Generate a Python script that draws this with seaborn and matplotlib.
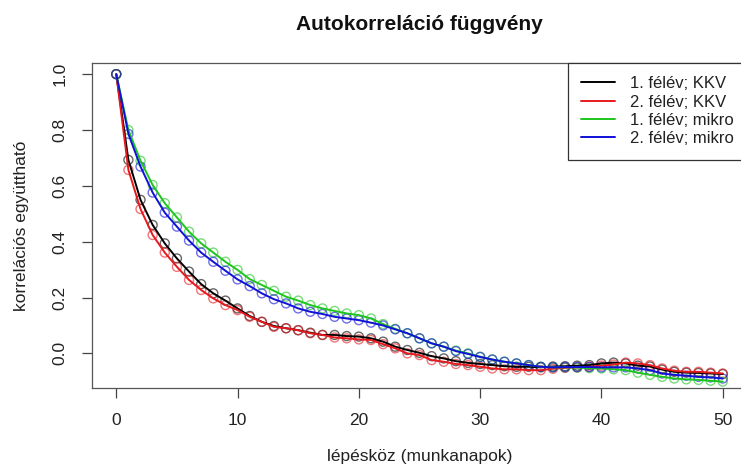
import numpy as np
import pandas as pd
import matplotlib
matplotlib.use("Agg")
import matplotlib.pyplot as plt
import seaborn as sns

# Autocorrelation values (lags 0..50)
lags = list(range(51))

kkv_1 = [1.000, 0.693, 0.550, 0.460, 0.394, 0.340, 0.293, 0.248, 0.215, 0.189,
         0.161, 0.134, 0.113, 0.098, 0.090, 0.083, 0.074, 0.066, 0.066, 0.062,
         0.060, 0.054, 0.042, 0.024, 0.012, 0.002, -0.010, -0.018, -0.028, -0.034,
         -0.038, -0.042, -0.046, -0.048, -0.048, -0.050, -0.047, -0.046, -0.044, -0.042,
         -0.036, -0.033, -0.036, -0.044, -0.047, -0.058, -0.066, -0.069, -0.070, -0.072,
         -0.074]

kkv_2 = [1.000, 0.657, 0.517, 0.424, 0.361, 0.310, 0.263, 0.227, 0.197, 0.173,
         0.155, 0.131, 0.113, 0.095, 0.090, 0.083, 0.072, 0.066, 0.057, 0.054,
         0.050, 0.048, 0.033, 0.018, 0.000, -0.006, -0.024, -0.030, -0.038, -0.042,
         -0.048, -0.054, -0.057, -0.057, -0.060, -0.060, -0.055, -0.052, -0.050, -0.048,
         -0.044, -0.040, -0.033, -0.036, -0.042, -0.054, -0.062, -0.066, -0.066, -0.069,
         -0.072]

mikro_1 = [1.000, 0.800, 0.690, 0.603, 0.538, 0.487, 0.436, 0.394, 0.361, 0.328,
           0.299, 0.266, 0.245, 0.224, 0.203, 0.189, 0.173, 0.161, 0.152, 0.143,
           0.137, 0.125, 0.105, 0.088, 0.072, 0.054, 0.036, 0.024, 0.010, 0.000,
           -0.012, -0.022, -0.030, -0.036, -0.042, -0.048, -0.050, -0.050, -0.051, -0.053,
           -0.054, -0.057, -0.060, -0.069, -0.077, -0.084, -0.090, -0.093, -0.095, -0.098,
           -0.101]

mikro_2 = [1.000, 0.786, 0.669, 0.576, 0.504, 0.454, 0.404, 0.361, 0.328, 0.296,
           0.265, 0.241, 0.215, 0.194, 0.179, 0.161, 0.149, 0.141, 0.131, 0.125,
           0.119, 0.110, 0.100, 0.086, 0.072, 0.054, 0.036, 0.024, 0.008, -0.002,
           -0.013, -0.022, -0.030, -0.036, -0.042, -0.048, -0.050, -0.049, -0.049, -0.049,
           -0.050, -0.050, -0.050, -0.054, -0.060, -0.072, -0.077, -0.080, -0.084, -0.086,
           -0.090]

series_names = ["1. félév; KKV", "2. félév; KKV", "1. félév; mikro", "2. félév; mikro"]
series_values = [kkv_1, kkv_2, mikro_1, mikro_2]
series_colors = ["black", "#E8191E", "#1DC51D", "#1010D8"]

df = pd.DataFrame({
    "lag": lags * len(series_names),
    "acf": np.concatenate(series_values),
    "series": np.repeat(series_names, len(lags)),
})

sns.set_style("ticks")
plt.rcParams["font.family"] = ["Liberation Sans", "DejaVu Sans"]

W, H = 741, 473
fig = plt.figure(figsize=(W / 100, H / 100), dpi=100)
# plot box in pixels: left 92, right 747 (runs off the image), top 63, bottom 388
ax = fig.add_axes([92 / W, (H - 388) / H, (747 - 92) / W, (388 - 63) / H])

for name, color in zip(series_names, series_colors):
    sub = df[df["series"] == name]
    sns.lineplot(data=sub, x="lag", y="acf", color=color, linewidth=1.4,
                 label=name, ax=ax)
    sns.scatterplot(data=sub, x="lag", y="acf", facecolor="none", edgecolor=color,
                    s=42, linewidth=1.0, alpha=0.6, ax=ax)

ax.set_xlim(-2, 52)
ax.set_ylim(-0.124, 1.04)
ax.set_xticks([0, 10, 20, 30, 40, 50])
ax.set_yticks([0.0, 0.2, 0.4, 0.6, 0.8, 1.0])
ax.set_yticklabels([f"{v:.1f}" for v in [0.0, 0.2, 0.4, 0.6, 0.8, 1.0]],
                   rotation=90, va="center")
ax.tick_params(axis="both", direction="out", length=7, width=0.9,
               color="#444444", labelsize=12.5, labelcolor="#222222")
ax.tick_params(axis="x", pad=11)
ax.tick_params(axis="y", pad=10.5)
for sp in ax.spines.values():
    sp.set_color("#555555")
    sp.set_linewidth(0.9)

ax.set_xlabel("lépésköz (munkanapok)", fontsize=12.5, color="#222222")
ax.set_ylabel("korrelációs együttható", fontsize=12.5, color="#222222")
ax.xaxis.set_label_coords(0.5, -(449 - 388) / (388 - 63))
ax.yaxis.set_label_coords(-(92 - 29) / (747 - 92), 0.5)

fig.text((92 + 747) / 2 / W, 1 - 30 / H, "Autokorreláció függvény",
         ha="center", va="baseline", fontsize=15, fontweight="bold", color="#111111")

leg = ax.legend(loc="upper right", frameon=True, fancybox=False, borderaxespad=0,
                fontsize=12, handlelength=2.0, handletextpad=0.9, labelspacing=0.2,
                borderpad=0.8)
leg.get_frame().set_edgecolor("#333333")
leg.get_frame().set_linewidth(0.9)
leg.get_frame().set_alpha(1)
for t in leg.get_texts():
    t.set_color("#222222")

fig.savefig("out.png", dpi=100)
